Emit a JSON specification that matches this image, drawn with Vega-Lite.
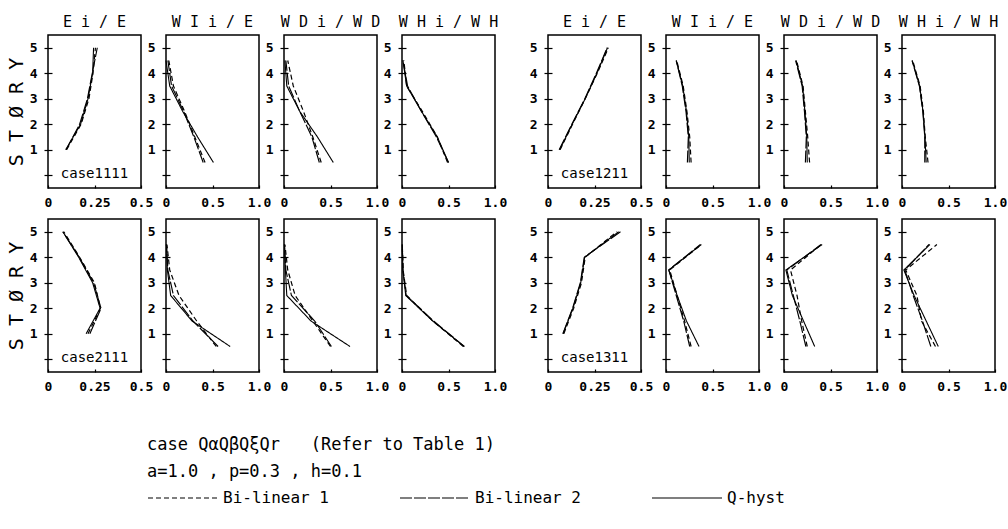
{
"$schema":"https://vega.github.io/schema/vega-lite/v6.json",
"background":"white",
"padding":{"left":5,"top":14,"right":0,"bottom":0},
"autosize":{"type":"pad"},
"datasets":{"panels":[
{"g":"L","r":1,"q":"E","c":"case1111","st":1,"Bi-linear 1":0.10,"Bi-linear 2":0.098,"Q-hyst":0.095},
{"g":"L","r":1,"q":"E","c":"case1111","st":2,"Bi-linear 1":0.178,"Bi-linear 2":0.17,"Q-hyst":0.175},
{"g":"L","r":1,"q":"E","c":"case1111","st":3,"Bi-linear 1":0.22,"Bi-linear 2":0.212,"Q-hyst":0.215},
{"g":"L","r":1,"q":"E","c":"case1111","st":4,"Bi-linear 1":0.242,"Bi-linear 2":0.238,"Q-hyst":0.24},
{"g":"L","r":1,"q":"E","c":"case1111","st":5,"Bi-linear 1":0.255,"Bi-linear 2":0.265,"Q-hyst":0.245},
{"g":"L","r":1,"q":"WI","st":0.5,"Bi-linear 1":0.42,"Bi-linear 2":0.40,"Q-hyst":0.51},
{"g":"L","r":1,"q":"WI","st":1.5,"Bi-linear 1":0.31,"Bi-linear 2":0.30,"Q-hyst":0.34},
{"g":"L","r":1,"q":"WI","st":2.5,"Bi-linear 1":0.20,"Bi-linear 2":0.19,"Q-hyst":0.18},
{"g":"L","r":1,"q":"WI","st":3.5,"Bi-linear 1":0.08,"Bi-linear 2":0.06,"Q-hyst":0.04},
{"g":"L","r":1,"q":"WI","st":4.5,"Bi-linear 1":0.03,"Bi-linear 2":0.02,"Q-hyst":0.0},
{"g":"L","r":1,"q":"WD","st":0.5,"Bi-linear 1":0.40,"Bi-linear 2":0.38,"Q-hyst":0.53},
{"g":"L","r":1,"q":"WD","st":1.5,"Bi-linear 1":0.31,"Bi-linear 2":0.30,"Q-hyst":0.36},
{"g":"L","r":1,"q":"WD","st":2.5,"Bi-linear 1":0.21,"Bi-linear 2":0.17,"Q-hyst":0.17},
{"g":"L","r":1,"q":"WD","st":3.5,"Bi-linear 1":0.10,"Bi-linear 2":0.05,"Q-hyst":0.03},
{"g":"L","r":1,"q":"WD","st":4.5,"Bi-linear 1":0.04,"Bi-linear 2":0.02,"Q-hyst":0.01},
{"g":"L","r":1,"q":"WH","st":0.5,"Bi-linear 1":0.49,"Bi-linear 2":0.50,"Q-hyst":0.50},
{"g":"L","r":1,"q":"WH","st":1.5,"Bi-linear 1":0.38,"Bi-linear 2":0.37,"Q-hyst":0.38},
{"g":"L","r":1,"q":"WH","st":2.5,"Bi-linear 1":0.22,"Bi-linear 2":0.21,"Q-hyst":0.21},
{"g":"L","r":1,"q":"WH","st":3.5,"Bi-linear 1":0.05,"Bi-linear 2":0.06,"Q-hyst":0.05},
{"g":"L","r":1,"q":"WH","st":4.5,"Bi-linear 1":0.02,"Bi-linear 2":0.01,"Q-hyst":0.01},
{"g":"R","r":1,"q":"E","c":"case1211","st":1,"Bi-linear 1":0.065,"Bi-linear 2":0.06,"Q-hyst":0.063},
{"g":"R","r":1,"q":"E","c":"case1211","st":2,"Bi-linear 1":0.132,"Bi-linear 2":0.128,"Q-hyst":0.13},
{"g":"R","r":1,"q":"E","c":"case1211","st":3,"Bi-linear 1":0.20,"Bi-linear 2":0.198,"Q-hyst":0.20},
{"g":"R","r":1,"q":"E","c":"case1211","st":4,"Bi-linear 1":0.265,"Bi-linear 2":0.26,"Q-hyst":0.263},
{"g":"R","r":1,"q":"E","c":"case1211","st":5,"Bi-linear 1":0.325,"Bi-linear 2":0.318,"Q-hyst":0.32},
{"g":"R","r":1,"q":"WI","st":0.5,"Bi-linear 1":0.27,"Bi-linear 2":0.23,"Q-hyst":0.25},
{"g":"R","r":1,"q":"WI","st":1.5,"Bi-linear 1":0.255,"Bi-linear 2":0.24,"Q-hyst":0.245},
{"g":"R","r":1,"q":"WI","st":2.5,"Bi-linear 1":0.225,"Bi-linear 2":0.215,"Q-hyst":0.22},
{"g":"R","r":1,"q":"WI","st":3.5,"Bi-linear 1":0.185,"Bi-linear 2":0.175,"Q-hyst":0.18},
{"g":"R","r":1,"q":"WI","st":4.5,"Bi-linear 1":0.115,"Bi-linear 2":0.11,"Q-hyst":0.11},
{"g":"R","r":1,"q":"WD","st":0.5,"Bi-linear 1":0.275,"Bi-linear 2":0.23,"Q-hyst":0.25},
{"g":"R","r":1,"q":"WD","st":1.5,"Bi-linear 1":0.255,"Bi-linear 2":0.24,"Q-hyst":0.245},
{"g":"R","r":1,"q":"WD","st":2.5,"Bi-linear 1":0.23,"Bi-linear 2":0.22,"Q-hyst":0.225},
{"g":"R","r":1,"q":"WD","st":3.5,"Bi-linear 1":0.205,"Bi-linear 2":0.195,"Q-hyst":0.20},
{"g":"R","r":1,"q":"WD","st":4.5,"Bi-linear 1":0.135,"Bi-linear 2":0.125,"Q-hyst":0.13},
{"g":"R","r":1,"q":"WH","st":0.5,"Bi-linear 1":0.28,"Bi-linear 2":0.245,"Q-hyst":0.26},
{"g":"R","r":1,"q":"WH","st":1.5,"Bi-linear 1":0.25,"Bi-linear 2":0.245,"Q-hyst":0.247},
{"g":"R","r":1,"q":"WH","st":2.5,"Bi-linear 1":0.23,"Bi-linear 2":0.224,"Q-hyst":0.226},
{"g":"R","r":1,"q":"WH","st":3.5,"Bi-linear 1":0.195,"Bi-linear 2":0.187,"Q-hyst":0.19},
{"g":"R","r":1,"q":"WH","st":4.5,"Bi-linear 1":0.115,"Bi-linear 2":0.108,"Q-hyst":0.11},
{"g":"L","r":2,"q":"E","c":"case2111","st":1,"Bi-linear 1":0.215,"Bi-linear 2":0.225,"Q-hyst":0.205},
{"g":"L","r":2,"q":"E","c":"case2111","st":2,"Bi-linear 1":0.282,"Bi-linear 2":0.285,"Q-hyst":0.28},
{"g":"L","r":2,"q":"E","c":"case2111","st":3,"Bi-linear 1":0.25,"Bi-linear 2":0.245,"Q-hyst":0.24},
{"g":"L","r":2,"q":"E","c":"case2111","st":4,"Bi-linear 1":0.17,"Bi-linear 2":0.168,"Q-hyst":0.165},
{"g":"L","r":2,"q":"E","c":"case2111","st":5,"Bi-linear 1":0.085,"Bi-linear 2":0.08,"Q-hyst":0.08},
{"g":"L","r":2,"q":"WI","st":0.5,"Bi-linear 1":0.54,"Bi-linear 2":0.56,"Q-hyst":0.69},
{"g":"L","r":2,"q":"WI","st":1.5,"Bi-linear 1":0.33,"Bi-linear 2":0.29,"Q-hyst":0.28},
{"g":"L","r":2,"q":"WI","st":2.5,"Bi-linear 1":0.14,"Bi-linear 2":0.08,"Q-hyst":0.05},
{"g":"L","r":2,"q":"WI","st":3.5,"Bi-linear 1":0.04,"Bi-linear 2":0.02,"Q-hyst":0.015},
{"g":"L","r":2,"q":"WI","st":4.5,"Bi-linear 1":0.01,"Bi-linear 2":0.005,"Q-hyst":0.005},
{"g":"L","r":2,"q":"WD","st":0.5,"Bi-linear 1":0.50,"Bi-linear 2":0.51,"Q-hyst":0.71},
{"g":"L","r":2,"q":"WD","st":1.5,"Bi-linear 1":0.31,"Bi-linear 2":0.33,"Q-hyst":0.29},
{"g":"L","r":2,"q":"WD","st":2.5,"Bi-linear 1":0.12,"Bi-linear 2":0.08,"Q-hyst":0.03},
{"g":"L","r":2,"q":"WD","st":3.5,"Bi-linear 1":0.04,"Bi-linear 2":0.02,"Q-hyst":0.015},
{"g":"L","r":2,"q":"WD","st":4.5,"Bi-linear 1":0.01,"Bi-linear 2":0.005,"Q-hyst":0.005},
{"g":"L","r":2,"q":"WH","st":0.5,"Bi-linear 1":0.66,"Bi-linear 2":0.67,"Q-hyst":0.67},
{"g":"L","r":2,"q":"WH","st":1.5,"Bi-linear 1":0.33,"Bi-linear 2":0.34,"Q-hyst":0.33},
{"g":"L","r":2,"q":"WH","st":2.5,"Bi-linear 1":0.05,"Bi-linear 2":0.045,"Q-hyst":0.04},
{"g":"L","r":2,"q":"WH","st":3.5,"Bi-linear 1":0.012,"Bi-linear 2":0.01,"Q-hyst":0.01},
{"g":"L","r":2,"q":"WH","st":4.5,"Bi-linear 1":0.003,"Bi-linear 2":0.003,"Q-hyst":0.003},
{"g":"R","r":2,"q":"E","c":"case1311","st":1,"Bi-linear 1":0.085,"Bi-linear 2":0.08,"Q-hyst":0.081},
{"g":"R","r":2,"q":"E","c":"case1311","st":2,"Bi-linear 1":0.138,"Bi-linear 2":0.132,"Q-hyst":0.134},
{"g":"R","r":2,"q":"E","c":"case1311","st":3,"Bi-linear 1":0.18,"Bi-linear 2":0.174,"Q-hyst":0.176},
{"g":"R","r":2,"q":"E","c":"case1311","st":4,"Bi-linear 1":0.20,"Bi-linear 2":0.195,"Q-hyst":0.197},
{"g":"R","r":2,"q":"E","c":"case1311","st":5,"Bi-linear 1":0.37,"Bi-linear 2":0.39,"Q-hyst":0.38},
{"g":"R","r":2,"q":"WI","st":0.5,"Bi-linear 1":0.27,"Bi-linear 2":0.255,"Q-hyst":0.355},
{"g":"R","r":2,"q":"WI","st":1.5,"Bi-linear 1":0.20,"Bi-linear 2":0.19,"Q-hyst":0.22},
{"g":"R","r":2,"q":"WI","st":2.5,"Bi-linear 1":0.12,"Bi-linear 2":0.11,"Q-hyst":0.12},
{"g":"R","r":2,"q":"WI","st":3.5,"Bi-linear 1":0.04,"Bi-linear 2":0.03,"Q-hyst":0.03},
{"g":"R","r":2,"q":"WI","st":4.5,"Bi-linear 1":0.38,"Bi-linear 2":0.37,"Q-hyst":0.38},
{"g":"R","r":2,"q":"WD","st":0.5,"Bi-linear 1":0.25,"Bi-linear 2":0.235,"Q-hyst":0.33},
{"g":"R","r":2,"q":"WD","st":1.5,"Bi-linear 1":0.19,"Bi-linear 2":0.17,"Q-hyst":0.21},
{"g":"R","r":2,"q":"WD","st":2.5,"Bi-linear 1":0.14,"Bi-linear 2":0.10,"Q-hyst":0.09},
{"g":"R","r":2,"q":"WD","st":3.5,"Bi-linear 1":0.07,"Bi-linear 2":0.03,"Q-hyst":0.02},
{"g":"R","r":2,"q":"WD","st":4.5,"Bi-linear 1":0.40,"Bi-linear 2":0.40,"Q-hyst":0.41},
{"g":"R","r":2,"q":"WH","st":0.5,"Bi-linear 1":0.36,"Bi-linear 2":0.31,"Q-hyst":0.39},
{"g":"R","r":2,"q":"WH","st":1.5,"Bi-linear 1":0.21,"Bi-linear 2":0.22,"Q-hyst":0.26},
{"g":"R","r":2,"q":"WH","st":2.5,"Bi-linear 1":0.16,"Bi-linear 2":0.12,"Q-hyst":0.13},
{"g":"R","r":2,"q":"WH","st":3.5,"Bi-linear 1":0.04,"Bi-linear 2":0.03,"Q-hyst":0.02},
{"g":"R","r":2,"q":"WH","st":4.5,"Bi-linear 1":0.375,"Bi-linear 2":0.29,"Q-hyst":0.30}
]},
"config":{
 "view":{"stroke":"black","strokeWidth":1.5},
 "axis":{"domain":false,"grid":false,"tickColor":"black","tickWidth":1.2,"labelFont":"DejaVu Sans Mono","labelFontSize":13,"labelFontWeight":"bold","labelColor":"black","labelFlush":false,"labelOverlap":false,"titleFont":"DejaVu Sans Mono","titleFontSize":20,"titleFontWeight":"normal","titleColor":"black","titlePadding":3},
 "axisY":{"offset":-4,"tickSize":8,"labelPadding":7},
 "axisX":{"offset":-3,"tickSize":3,"labelPadding":8},
 "title":{"font":"DejaVu Sans Mono","fontSize":15,"fontWeight":"normal","color":"black","offset":5,"anchor":"middle"},
 "legend":{"orient":"none","legendX":99,"legendY":402,"direction":"horizontal","titleFont":"DejaVu Sans Mono","titleFontSize":17,"titleFontWeight":"normal","titleColor":"black","titleLineHeight":27,"titlePadding":-19,"titleLimit":800,"symbolType":"stroke","symbolSize":4900,"symbolStrokeWidth":1.3,"symbolStrokeColor":"black","labelFont":"DejaVu Sans Mono","labelFontSize":16,"labelColor":"black","labelLimit":300,"labelOffset":4,"columnPadding":68}
},
"columns":9,
"spacing":{"row":31,"column":25},
"bounds":"flush",
"resolve":{"scale":{"strokeDash":"shared","strokeWidth":"shared"},"legend":{"strokeDash":"shared"}},
"concat":[
 {"data":{"name":"panels"},"transform":[{"filter":"datum.g=='L' && datum.r==1 && datum.q=='E'"},{"fold":["Bi-linear 1","Bi-linear 2","Q-hyst"],"as":["s","v"]}],
  "width":93,"height":153,"title":"E i / E",
  "layer":[
   {"mark":{"type":"line","color":"black","strokeCap":"butt"},"encoding":{
     "x":{"field":"v","type":"quantitative","scale":{"domain":[0,0.5],"nice":false,"zero":false},"axis":{"values":[0,0.25,0.5],"labelExpr":"'' + datum.value","title":null}},
     "y":{"field":"st","type":"quantitative","scale":{"domain":[-0.5,5.5],"nice":false,"zero":false},"axis":{"values":[0,1,2,3,4,5],"labelExpr":"datum.value == 0 ? '' : datum.label","title":"S T Ø R Y"}},
     "strokeDash":{"field":"s","type":"nominal","scale":{"domain":["Bi-linear 1","Bi-linear 2","Q-hyst"],"range":[[5,3],[12,2],[1,0]]},"legend":{"title":["case QαQβQξQr\u00a0\u00a0\u00a0(Refer to Table 1)","a=1.0 , p=0.3 , h=0.1"]}},
     "strokeWidth":{"field":"s","type":"nominal","scale":{"domain":["Bi-linear 1","Bi-linear 2","Q-hyst"],"range":[1.2,1.1,2.2]},"legend":null},
     "order":{"field":"st","type":"quantitative"}}},
   {"transform":[{"filter":"datum.st==1 && datum.s=='Q-hyst'"}],"mark":{"type":"text","font":"DejaVu Sans Mono","fontSize":14,"color":"black","baseline":"middle","align":"center"},
    "encoding":{"x":{"datum":0.25,"type":"quantitative","scale":{"domain":[0,0.5],"nice":false,"zero":false},"axis":{"values":[0,0.25,0.5],"labelExpr":"'' + datum.value","title":null}},"y":{"datum":0.05,"type":"quantitative","scale":{"domain":[-0.5,5.5],"nice":false,"zero":false},"axis":{"values":[0,1,2,3,4,5],"labelExpr":"datum.value == 0 ? '' : datum.label","title":"S T Ø R Y"}},"text":{"field":"c"}}}
  ]},
 {"data":{"name":"panels"},"transform":[{"filter":"datum.g=='L' && datum.r==1 && datum.q=='WI'"},{"fold":["Bi-linear 1","Bi-linear 2","Q-hyst"],"as":["s","v"]}],
  "width":93,"height":153,"title":"W I i / E",
  "mark":{"type":"line","color":"black","strokeCap":"butt"},"encoding":{
     "x":{"field":"v","type":"quantitative","scale":{"domain":[0,1],"nice":false,"zero":false},"axis":{"values":[0,0.5,1],"labelExpr":"datum.value == 1 ? '1.0' : '' + datum.value","title":null}},
     "y":{"field":"st","type":"quantitative","scale":{"domain":[-0.5,5.5],"nice":false,"zero":false},"axis":{"values":[0,1,2,3,4,5],"labelExpr":"datum.value == 0 ? '' : datum.label","title":null}},
     "strokeDash":{"field":"s","type":"nominal","scale":{"domain":["Bi-linear 1","Bi-linear 2","Q-hyst"],"range":[[5,3],[12,2],[1,0]]},"legend":{"title":["case QαQβQξQr\u00a0\u00a0\u00a0(Refer to Table 1)","a=1.0 , p=0.3 , h=0.1"]}},
     "strokeWidth":{"field":"s","type":"nominal","scale":{"domain":["Bi-linear 1","Bi-linear 2","Q-hyst"],"range":[1.2,1.1,2.2]},"legend":null},
     "order":{"field":"st","type":"quantitative"}}},
 {"data":{"name":"panels"},"transform":[{"filter":"datum.g=='L' && datum.r==1 && datum.q=='WD'"},{"fold":["Bi-linear 1","Bi-linear 2","Q-hyst"],"as":["s","v"]}],
  "width":93,"height":153,"title":"W D i / W D",
  "mark":{"type":"line","color":"black","strokeCap":"butt"},"encoding":{
     "x":{"field":"v","type":"quantitative","scale":{"domain":[0,1],"nice":false,"zero":false},"axis":{"values":[0,0.5,1],"labelExpr":"datum.value == 1 ? '1.0' : '' + datum.value","title":null}},
     "y":{"field":"st","type":"quantitative","scale":{"domain":[-0.5,5.5],"nice":false,"zero":false},"axis":{"values":[0,1,2,3,4,5],"labelExpr":"datum.value == 0 ? '' : datum.label","title":null}},
     "strokeDash":{"field":"s","type":"nominal","scale":{"domain":["Bi-linear 1","Bi-linear 2","Q-hyst"],"range":[[5,3],[12,2],[1,0]]},"legend":{"title":["case QαQβQξQr\u00a0\u00a0\u00a0(Refer to Table 1)","a=1.0 , p=0.3 , h=0.1"]}},
     "strokeWidth":{"field":"s","type":"nominal","scale":{"domain":["Bi-linear 1","Bi-linear 2","Q-hyst"],"range":[1.2,1.1,2.2]},"legend":null},
     "order":{"field":"st","type":"quantitative"}}},
 {"data":{"name":"panels"},"transform":[{"filter":"datum.g=='L' && datum.r==1 && datum.q=='WH'"},{"fold":["Bi-linear 1","Bi-linear 2","Q-hyst"],"as":["s","v"]}],
  "width":93,"height":153,"title":"W H i / W H",
  "mark":{"type":"line","color":"black","strokeCap":"butt"},"encoding":{
     "x":{"field":"v","type":"quantitative","scale":{"domain":[0,1],"nice":false,"zero":false},"axis":{"values":[0,0.5,1],"labelExpr":"datum.value == 1 ? '1.0' : '' + datum.value","title":null}},
     "y":{"field":"st","type":"quantitative","scale":{"domain":[-0.5,5.5],"nice":false,"zero":false},"axis":{"values":[0,1,2,3,4,5],"labelExpr":"datum.value == 0 ? '' : datum.label","title":null}},
     "strokeDash":{"field":"s","type":"nominal","scale":{"domain":["Bi-linear 1","Bi-linear 2","Q-hyst"],"range":[[5,3],[12,2],[1,0]]},"legend":{"title":["case QαQβQξQr\u00a0\u00a0\u00a0(Refer to Table 1)","a=1.0 , p=0.3 , h=0.1"]}},
     "strokeWidth":{"field":"s","type":"nominal","scale":{"domain":["Bi-linear 1","Bi-linear 2","Q-hyst"],"range":[1.2,1.1,2.2]},"legend":null},
     "order":{"field":"st","type":"quantitative"}}},
 {"data":{"values":[]},"mark":"point","width":3,"height":153,"view":{"stroke":null}},
 {"data":{"name":"panels"},"transform":[{"filter":"datum.g=='R' && datum.r==1 && datum.q=='E'"},{"fold":["Bi-linear 1","Bi-linear 2","Q-hyst"],"as":["s","v"]}],
  "width":93,"height":153,"title":"E i / E",
  "layer":[
   {"mark":{"type":"line","color":"black","strokeCap":"butt"},"encoding":{
     "x":{"field":"v","type":"quantitative","scale":{"domain":[0,0.5],"nice":false,"zero":false},"axis":{"values":[0,0.25,0.5],"labelExpr":"'' + datum.value","title":null}},
     "y":{"field":"st","type":"quantitative","scale":{"domain":[-0.5,5.5],"nice":false,"zero":false},"axis":{"values":[0,1,2,3,4,5],"labelExpr":"datum.value == 0 ? '' : datum.label","title":null}},
     "strokeDash":{"field":"s","type":"nominal","scale":{"domain":["Bi-linear 1","Bi-linear 2","Q-hyst"],"range":[[5,3],[12,2],[1,0]]},"legend":{"title":["case QαQβQξQr\u00a0\u00a0\u00a0(Refer to Table 1)","a=1.0 , p=0.3 , h=0.1"]}},
     "strokeWidth":{"field":"s","type":"nominal","scale":{"domain":["Bi-linear 1","Bi-linear 2","Q-hyst"],"range":[1.2,1.1,2.2]},"legend":null},
     "order":{"field":"st","type":"quantitative"}}},
   {"transform":[{"filter":"datum.st==1 && datum.s=='Q-hyst'"}],"mark":{"type":"text","font":"DejaVu Sans Mono","fontSize":14,"color":"black","baseline":"middle","align":"center"},
    "encoding":{"x":{"datum":0.25,"type":"quantitative","scale":{"domain":[0,0.5],"nice":false,"zero":false},"axis":{"values":[0,0.25,0.5],"labelExpr":"'' + datum.value","title":null}},"y":{"datum":0.05,"type":"quantitative","scale":{"domain":[-0.5,5.5],"nice":false,"zero":false},"axis":{"values":[0,1,2,3,4,5],"labelExpr":"datum.value == 0 ? '' : datum.label","title":null}},"text":{"field":"c"}}}
  ]},
 {"data":{"name":"panels"},"transform":[{"filter":"datum.g=='R' && datum.r==1 && datum.q=='WI'"},{"fold":["Bi-linear 1","Bi-linear 2","Q-hyst"],"as":["s","v"]}],
  "width":93,"height":153,"title":"W I i / E",
  "mark":{"type":"line","color":"black","strokeCap":"butt"},"encoding":{
     "x":{"field":"v","type":"quantitative","scale":{"domain":[0,1],"nice":false,"zero":false},"axis":{"values":[0,0.5,1],"labelExpr":"datum.value == 1 ? '1.0' : '' + datum.value","title":null}},
     "y":{"field":"st","type":"quantitative","scale":{"domain":[-0.5,5.5],"nice":false,"zero":false},"axis":{"values":[0,1,2,3,4,5],"labelExpr":"datum.value == 0 ? '' : datum.label","title":null}},
     "strokeDash":{"field":"s","type":"nominal","scale":{"domain":["Bi-linear 1","Bi-linear 2","Q-hyst"],"range":[[5,3],[12,2],[1,0]]},"legend":{"title":["case QαQβQξQr\u00a0\u00a0\u00a0(Refer to Table 1)","a=1.0 , p=0.3 , h=0.1"]}},
     "strokeWidth":{"field":"s","type":"nominal","scale":{"domain":["Bi-linear 1","Bi-linear 2","Q-hyst"],"range":[1.2,1.1,2.2]},"legend":null},
     "order":{"field":"st","type":"quantitative"}}},
 {"data":{"name":"panels"},"transform":[{"filter":"datum.g=='R' && datum.r==1 && datum.q=='WD'"},{"fold":["Bi-linear 1","Bi-linear 2","Q-hyst"],"as":["s","v"]}],
  "width":93,"height":153,"title":"W D i / W D",
  "mark":{"type":"line","color":"black","strokeCap":"butt"},"encoding":{
     "x":{"field":"v","type":"quantitative","scale":{"domain":[0,1],"nice":false,"zero":false},"axis":{"values":[0,0.5,1],"labelExpr":"datum.value == 1 ? '1.0' : '' + datum.value","title":null}},
     "y":{"field":"st","type":"quantitative","scale":{"domain":[-0.5,5.5],"nice":false,"zero":false},"axis":{"values":[0,1,2,3,4,5],"labelExpr":"datum.value == 0 ? '' : datum.label","title":null}},
     "strokeDash":{"field":"s","type":"nominal","scale":{"domain":["Bi-linear 1","Bi-linear 2","Q-hyst"],"range":[[5,3],[12,2],[1,0]]},"legend":{"title":["case QαQβQξQr\u00a0\u00a0\u00a0(Refer to Table 1)","a=1.0 , p=0.3 , h=0.1"]}},
     "strokeWidth":{"field":"s","type":"nominal","scale":{"domain":["Bi-linear 1","Bi-linear 2","Q-hyst"],"range":[1.2,1.1,2.2]},"legend":null},
     "order":{"field":"st","type":"quantitative"}}},
 {"data":{"name":"panels"},"transform":[{"filter":"datum.g=='R' && datum.r==1 && datum.q=='WH'"},{"fold":["Bi-linear 1","Bi-linear 2","Q-hyst"],"as":["s","v"]}],
  "width":93,"height":153,"title":"W H i / W H",
  "mark":{"type":"line","color":"black","strokeCap":"butt"},"encoding":{
     "x":{"field":"v","type":"quantitative","scale":{"domain":[0,1],"nice":false,"zero":false},"axis":{"values":[0,0.5,1],"labelExpr":"datum.value == 1 ? '1.0' : '' + datum.value","title":null}},
     "y":{"field":"st","type":"quantitative","scale":{"domain":[-0.5,5.5],"nice":false,"zero":false},"axis":{"values":[0,1,2,3,4,5],"labelExpr":"datum.value == 0 ? '' : datum.label","title":null}},
     "strokeDash":{"field":"s","type":"nominal","scale":{"domain":["Bi-linear 1","Bi-linear 2","Q-hyst"],"range":[[5,3],[12,2],[1,0]]},"legend":{"title":["case QαQβQξQr\u00a0\u00a0\u00a0(Refer to Table 1)","a=1.0 , p=0.3 , h=0.1"]}},
     "strokeWidth":{"field":"s","type":"nominal","scale":{"domain":["Bi-linear 1","Bi-linear 2","Q-hyst"],"range":[1.2,1.1,2.2]},"legend":null},
     "order":{"field":"st","type":"quantitative"}}},
 {"data":{"name":"panels"},"transform":[{"filter":"datum.g=='L' && datum.r==2 && datum.q=='E'"},{"fold":["Bi-linear 1","Bi-linear 2","Q-hyst"],"as":["s","v"]}],
  "width":93,"height":153,
  "layer":[
   {"mark":{"type":"line","color":"black","strokeCap":"butt"},"encoding":{
     "x":{"field":"v","type":"quantitative","scale":{"domain":[0,0.5],"nice":false,"zero":false},"axis":{"values":[0,0.25,0.5],"labelExpr":"'' + datum.value","title":null}},
     "y":{"field":"st","type":"quantitative","scale":{"domain":[-0.5,5.5],"nice":false,"zero":false},"axis":{"values":[0,1,2,3,4,5],"labelExpr":"datum.value == 0 ? '' : datum.label","title":"S T Ø R Y"}},
     "strokeDash":{"field":"s","type":"nominal","scale":{"domain":["Bi-linear 1","Bi-linear 2","Q-hyst"],"range":[[5,3],[12,2],[1,0]]},"legend":{"title":["case QαQβQξQr\u00a0\u00a0\u00a0(Refer to Table 1)","a=1.0 , p=0.3 , h=0.1"]}},
     "strokeWidth":{"field":"s","type":"nominal","scale":{"domain":["Bi-linear 1","Bi-linear 2","Q-hyst"],"range":[1.2,1.1,2.2]},"legend":null},
     "order":{"field":"st","type":"quantitative"}}},
   {"transform":[{"filter":"datum.st==1 && datum.s=='Q-hyst'"}],"mark":{"type":"text","font":"DejaVu Sans Mono","fontSize":14,"color":"black","baseline":"middle","align":"center"},
    "encoding":{"x":{"datum":0.25,"type":"quantitative","scale":{"domain":[0,0.5],"nice":false,"zero":false},"axis":{"values":[0,0.25,0.5],"labelExpr":"'' + datum.value","title":null}},"y":{"datum":0.05,"type":"quantitative","scale":{"domain":[-0.5,5.5],"nice":false,"zero":false},"axis":{"values":[0,1,2,3,4,5],"labelExpr":"datum.value == 0 ? '' : datum.label","title":"S T Ø R Y"}},"text":{"field":"c"}}}
  ]},
 {"data":{"name":"panels"},"transform":[{"filter":"datum.g=='L' && datum.r==2 && datum.q=='WI'"},{"fold":["Bi-linear 1","Bi-linear 2","Q-hyst"],"as":["s","v"]}],
  "width":93,"height":153,
  "mark":{"type":"line","color":"black","strokeCap":"butt"},"encoding":{
     "x":{"field":"v","type":"quantitative","scale":{"domain":[0,1],"nice":false,"zero":false},"axis":{"values":[0,0.5,1],"labelExpr":"datum.value == 1 ? '1.0' : '' + datum.value","title":null}},
     "y":{"field":"st","type":"quantitative","scale":{"domain":[-0.5,5.5],"nice":false,"zero":false},"axis":{"values":[0,1,2,3,4,5],"labelExpr":"datum.value == 0 ? '' : datum.label","title":null}},
     "strokeDash":{"field":"s","type":"nominal","scale":{"domain":["Bi-linear 1","Bi-linear 2","Q-hyst"],"range":[[5,3],[12,2],[1,0]]},"legend":{"title":["case QαQβQξQr\u00a0\u00a0\u00a0(Refer to Table 1)","a=1.0 , p=0.3 , h=0.1"]}},
     "strokeWidth":{"field":"s","type":"nominal","scale":{"domain":["Bi-linear 1","Bi-linear 2","Q-hyst"],"range":[1.2,1.1,2.2]},"legend":null},
     "order":{"field":"st","type":"quantitative"}}},
 {"data":{"name":"panels"},"transform":[{"filter":"datum.g=='L' && datum.r==2 && datum.q=='WD'"},{"fold":["Bi-linear 1","Bi-linear 2","Q-hyst"],"as":["s","v"]}],
  "width":93,"height":153,
  "mark":{"type":"line","color":"black","strokeCap":"butt"},"encoding":{
     "x":{"field":"v","type":"quantitative","scale":{"domain":[0,1],"nice":false,"zero":false},"axis":{"values":[0,0.5,1],"labelExpr":"datum.value == 1 ? '1.0' : '' + datum.value","title":null}},
     "y":{"field":"st","type":"quantitative","scale":{"domain":[-0.5,5.5],"nice":false,"zero":false},"axis":{"values":[0,1,2,3,4,5],"labelExpr":"datum.value == 0 ? '' : datum.label","title":null}},
     "strokeDash":{"field":"s","type":"nominal","scale":{"domain":["Bi-linear 1","Bi-linear 2","Q-hyst"],"range":[[5,3],[12,2],[1,0]]},"legend":{"title":["case QαQβQξQr\u00a0\u00a0\u00a0(Refer to Table 1)","a=1.0 , p=0.3 , h=0.1"]}},
     "strokeWidth":{"field":"s","type":"nominal","scale":{"domain":["Bi-linear 1","Bi-linear 2","Q-hyst"],"range":[1.2,1.1,2.2]},"legend":null},
     "order":{"field":"st","type":"quantitative"}}},
 {"data":{"name":"panels"},"transform":[{"filter":"datum.g=='L' && datum.r==2 && datum.q=='WH'"},{"fold":["Bi-linear 1","Bi-linear 2","Q-hyst"],"as":["s","v"]}],
  "width":93,"height":153,
  "mark":{"type":"line","color":"black","strokeCap":"butt"},"encoding":{
     "x":{"field":"v","type":"quantitative","scale":{"domain":[0,1],"nice":false,"zero":false},"axis":{"values":[0,0.5,1],"labelExpr":"datum.value == 1 ? '1.0' : '' + datum.value","title":null}},
     "y":{"field":"st","type":"quantitative","scale":{"domain":[-0.5,5.5],"nice":false,"zero":false},"axis":{"values":[0,1,2,3,4,5],"labelExpr":"datum.value == 0 ? '' : datum.label","title":null}},
     "strokeDash":{"field":"s","type":"nominal","scale":{"domain":["Bi-linear 1","Bi-linear 2","Q-hyst"],"range":[[5,3],[12,2],[1,0]]},"legend":{"title":["case QαQβQξQr\u00a0\u00a0\u00a0(Refer to Table 1)","a=1.0 , p=0.3 , h=0.1"]}},
     "strokeWidth":{"field":"s","type":"nominal","scale":{"domain":["Bi-linear 1","Bi-linear 2","Q-hyst"],"range":[1.2,1.1,2.2]},"legend":null},
     "order":{"field":"st","type":"quantitative"}}},
 {"data":{"values":[]},"mark":"point","width":3,"height":153,"view":{"stroke":null}},
 {"data":{"name":"panels"},"transform":[{"filter":"datum.g=='R' && datum.r==2 && datum.q=='E'"},{"fold":["Bi-linear 1","Bi-linear 2","Q-hyst"],"as":["s","v"]}],
  "width":93,"height":153,
  "layer":[
   {"mark":{"type":"line","color":"black","strokeCap":"butt"},"encoding":{
     "x":{"field":"v","type":"quantitative","scale":{"domain":[0,0.5],"nice":false,"zero":false},"axis":{"values":[0,0.25,0.5],"labelExpr":"'' + datum.value","title":null}},
     "y":{"field":"st","type":"quantitative","scale":{"domain":[-0.5,5.5],"nice":false,"zero":false},"axis":{"values":[0,1,2,3,4,5],"labelExpr":"datum.value == 0 ? '' : datum.label","title":null}},
     "strokeDash":{"field":"s","type":"nominal","scale":{"domain":["Bi-linear 1","Bi-linear 2","Q-hyst"],"range":[[5,3],[12,2],[1,0]]},"legend":{"title":["case QαQβQξQr\u00a0\u00a0\u00a0(Refer to Table 1)","a=1.0 , p=0.3 , h=0.1"]}},
     "strokeWidth":{"field":"s","type":"nominal","scale":{"domain":["Bi-linear 1","Bi-linear 2","Q-hyst"],"range":[1.2,1.1,2.2]},"legend":null},
     "order":{"field":"st","type":"quantitative"}}},
   {"transform":[{"filter":"datum.st==1 && datum.s=='Q-hyst'"}],"mark":{"type":"text","font":"DejaVu Sans Mono","fontSize":14,"color":"black","baseline":"middle","align":"center"},
    "encoding":{"x":{"datum":0.25,"type":"quantitative","scale":{"domain":[0,0.5],"nice":false,"zero":false},"axis":{"values":[0,0.25,0.5],"labelExpr":"'' + datum.value","title":null}},"y":{"datum":0.05,"type":"quantitative","scale":{"domain":[-0.5,5.5],"nice":false,"zero":false},"axis":{"values":[0,1,2,3,4,5],"labelExpr":"datum.value == 0 ? '' : datum.label","title":null}},"text":{"field":"c"}}}
  ]},
 {"data":{"name":"panels"},"transform":[{"filter":"datum.g=='R' && datum.r==2 && datum.q=='WI'"},{"fold":["Bi-linear 1","Bi-linear 2","Q-hyst"],"as":["s","v"]}],
  "width":93,"height":153,
  "mark":{"type":"line","color":"black","strokeCap":"butt"},"encoding":{
     "x":{"field":"v","type":"quantitative","scale":{"domain":[0,1],"nice":false,"zero":false},"axis":{"values":[0,0.5,1],"labelExpr":"datum.value == 1 ? '1.0' : '' + datum.value","title":null}},
     "y":{"field":"st","type":"quantitative","scale":{"domain":[-0.5,5.5],"nice":false,"zero":false},"axis":{"values":[0,1,2,3,4,5],"labelExpr":"datum.value == 0 ? '' : datum.label","title":null}},
     "strokeDash":{"field":"s","type":"nominal","scale":{"domain":["Bi-linear 1","Bi-linear 2","Q-hyst"],"range":[[5,3],[12,2],[1,0]]},"legend":{"title":["case QαQβQξQr\u00a0\u00a0\u00a0(Refer to Table 1)","a=1.0 , p=0.3 , h=0.1"]}},
     "strokeWidth":{"field":"s","type":"nominal","scale":{"domain":["Bi-linear 1","Bi-linear 2","Q-hyst"],"range":[1.2,1.1,2.2]},"legend":null},
     "order":{"field":"st","type":"quantitative"}}},
 {"data":{"name":"panels"},"transform":[{"filter":"datum.g=='R' && datum.r==2 && datum.q=='WD'"},{"fold":["Bi-linear 1","Bi-linear 2","Q-hyst"],"as":["s","v"]}],
  "width":93,"height":153,
  "mark":{"type":"line","color":"black","strokeCap":"butt"},"encoding":{
     "x":{"field":"v","type":"quantitative","scale":{"domain":[0,1],"nice":false,"zero":false},"axis":{"values":[0,0.5,1],"labelExpr":"datum.value == 1 ? '1.0' : '' + datum.value","title":null}},
     "y":{"field":"st","type":"quantitative","scale":{"domain":[-0.5,5.5],"nice":false,"zero":false},"axis":{"values":[0,1,2,3,4,5],"labelExpr":"datum.value == 0 ? '' : datum.label","title":null}},
     "strokeDash":{"field":"s","type":"nominal","scale":{"domain":["Bi-linear 1","Bi-linear 2","Q-hyst"],"range":[[5,3],[12,2],[1,0]]},"legend":{"title":["case QαQβQξQr\u00a0\u00a0\u00a0(Refer to Table 1)","a=1.0 , p=0.3 , h=0.1"]}},
     "strokeWidth":{"field":"s","type":"nominal","scale":{"domain":["Bi-linear 1","Bi-linear 2","Q-hyst"],"range":[1.2,1.1,2.2]},"legend":null},
     "order":{"field":"st","type":"quantitative"}}},
 {"data":{"name":"panels"},"transform":[{"filter":"datum.g=='R' && datum.r==2 && datum.q=='WH'"},{"fold":["Bi-linear 1","Bi-linear 2","Q-hyst"],"as":["s","v"]}],
  "width":93,"height":153,
  "mark":{"type":"line","color":"black","strokeCap":"butt"},"encoding":{
     "x":{"field":"v","type":"quantitative","scale":{"domain":[0,1],"nice":false,"zero":false},"axis":{"values":[0,0.5,1],"labelExpr":"datum.value == 1 ? '1.0' : '' + datum.value","title":null}},
     "y":{"field":"st","type":"quantitative","scale":{"domain":[-0.5,5.5],"nice":false,"zero":false},"axis":{"values":[0,1,2,3,4,5],"labelExpr":"datum.value == 0 ? '' : datum.label","title":null}},
     "strokeDash":{"field":"s","type":"nominal","scale":{"domain":["Bi-linear 1","Bi-linear 2","Q-hyst"],"range":[[5,3],[12,2],[1,0]]},"legend":{"title":["case QαQβQξQr\u00a0\u00a0\u00a0(Refer to Table 1)","a=1.0 , p=0.3 , h=0.1"]}},
     "strokeWidth":{"field":"s","type":"nominal","scale":{"domain":["Bi-linear 1","Bi-linear 2","Q-hyst"],"range":[1.2,1.1,2.2]},"legend":null},
     "order":{"field":"st","type":"quantitative"}}}
]
}
